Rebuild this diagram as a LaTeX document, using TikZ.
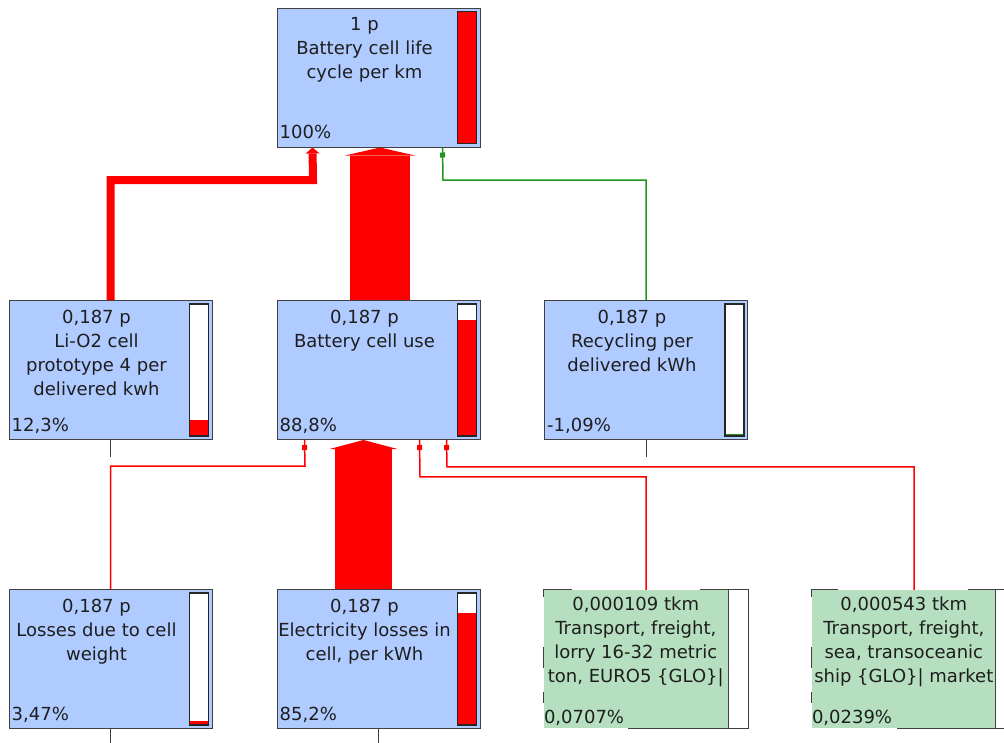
\documentclass[tikz,border=0pt]{standalone}
\usepackage{fontspec}
\setmainfont{DejaVu Sans}
\usetikzlibrary{arrows.meta}

\definecolor{procblue}{RGB}{176,203,255}
\definecolor{transgreen}{RGB}{181,223,190}
\definecolor{boxline}{RGB}{64,64,64}
\definecolor{txtgray}{RGB}{30,30,30}
\definecolor{flowgreen}{RGB}{30,150,30}

\begin{document}
\begin{tikzpicture}[x=1pt,y=-1pt,
	procbox/.style={draw=boxline, line width=1pt, fill=procblue, minimum width=203pt, minimum height=139pt, inner sep=0pt},
	transbox/.style={fill=transgreen, minimum width=204pt, minimum height=138pt, inner sep=0pt},
	amount/.style={anchor=north, align=center, inner sep=0pt, text=txtgray, font=\fontsize{18}{24}\selectfont},
	share/.style={anchor=base west, inner sep=0pt, text=txtgray, font=\fontsize{18}{24}\selectfont},
	bar/.style={draw=black!85, line width=1.2pt},
	edge/.style={draw=boxline, line width=1pt},
	mainflow/.style={red, line width=60pt, -{Triangle[length=8pt,width=70pt,line width=0pt]}},
	lossflow/.style={red, line width=57pt, -{Triangle[length=9pt,width=68pt,line width=0pt]}},
	lioflow/.style={red, line width=8pt, -{Triangle[length=6pt,width=14pt,line width=0pt]}},
	thinflow/.style={line width=1.5pt, -{Rectangle[length=5pt,width=5pt,line width=0pt]Rectangle[length=5pt,width=1.5pt,line width=0pt]}},
]
	\useasboundingbox (0,0) rectangle (1004,742);
	\clip (0,0) rectangle (1004,742);
	% process boxes
	\node[procbox] (top) at (378.5,77.5) {};
	\node[procbox] (lio) at (110.5,370) {};
	\node[procbox] (use) at (378.5,370) {};
	\node[procbox] (rec) at (646,370) {};
	\node[procbox] (loss) at (110.5,659) {};
	\node[procbox] (elec) at (378.5,659) {};
	\node[transbox] (lorry) at (646,659) {};
	\node[transbox] (sea) at (914,659) {};
	% texts
	\node[amount] (toptext) at ([shift={(88,10)}]top.north west) {1 p\\Battery cell life\\cycle per km};
	\node[share] (toppct) at ([shift={(3,-9)}]top.south west) {100\%};
	\node[amount] (liotext) at ([shift={(88,10)}]lio.north west) {0,187 p\\Li-O2 cell\\prototype 4 per\\delivered kwh};
	\node[share] (liopct) at ([shift={(3,-9)}]lio.south west) {12,3\%};
	\node[amount] (usetext) at ([shift={(88,10)}]use.north west) {0,187 p\\Battery cell use};
	\node[share] (usepct) at ([shift={(3,-9)}]use.south west) {88,8\%};
	\node[amount] (rectext) at ([shift={(88,10)}]rec.north west) {0,187 p\\Recycling per\\delivered kWh};
	\node[share] (recpct) at ([shift={(3,-9)}]rec.south west) {-1,09\%};
	\node[amount] (losstext) at ([shift={(88,10)}]loss.north west) {0,187 p\\Losses due to cell\\weight};
	\node[share] (losspct) at ([shift={(3,-9)}]loss.south west) {3,47\%};
	\node[amount] (electext) at ([shift={(88,10)}]elec.north west) {0,187 p\\Electricity losses in\\cell, per kWh};
	\node[share] (elecpct) at ([shift={(3,-9)}]elec.south west) {85,2\%};
	\node[amount] (lorrytext) at ([shift={(92,7)}]lorry.north west) {0,000109 tkm\\Transport, freight,\\lorry 16-32 metric\\ton, EURO5 \{GLO\}|};
	\node[share] (lorrypct) at ([shift={(0,-5)}]lorry.south west) {0,0707\%};
	\node[amount] (seatext) at ([shift={(92,7)}]sea.north west) {0,000543 tkm\\Transport, freight,\\sea, transoceanic\\ship \{GLO\}| market};
	\node[share] (seapct) at ([shift={(0,-5)}]sea.south west) {0,0239\%};
	% bars
	\fill[red] ([shift={(-23,4)}]top.north east) rectangle ([shift={(-4,-4)}]top.south east);
	\draw[bar] ([shift={(-23,4)}]top.north east) rectangle ([shift={(-4,-4)}]top.south east);
	\fill[white] ([shift={(-23,4)}]lio.north east) rectangle ([shift={(-4,-4)}]lio.south east);
	\fill[red] ([shift={(-23,-4)}]lio.south east) rectangle ([shift={(-4,-20)}]lio.south east);
	\draw[bar] ([shift={(-23,4)}]lio.north east) rectangle ([shift={(-4,-4)}]lio.south east);
	\fill[white] ([shift={(-23,4)}]use.north east) rectangle ([shift={(-4,-4)}]use.south east);
	\fill[red] ([shift={(-23,-4)}]use.south east) rectangle ([shift={(-4,-120)}]use.south east);
	\draw[bar] ([shift={(-23,4)}]use.north east) rectangle ([shift={(-4,-4)}]use.south east);
	\fill[white] ([shift={(-23,4)}]rec.north east) rectangle ([shift={(-4,-4)}]rec.south east);
	\fill[flowgreen] ([shift={(-23,-4)}]rec.south east) rectangle ([shift={(-4,-6)}]rec.south east);
	\draw[bar] ([shift={(-23,4)}]rec.north east) rectangle ([shift={(-4,-4)}]rec.south east);
	\fill[white] ([shift={(-23,4)}]loss.north east) rectangle ([shift={(-4,-4)}]loss.south east);
	\fill[red] ([shift={(-23,-4)}]loss.south east) rectangle ([shift={(-4,-8.5)}]loss.south east);
	\draw[bar] ([shift={(-23,4)}]loss.north east) rectangle ([shift={(-4,-4)}]loss.south east);
	\fill[white] ([shift={(-23,4)}]elec.north east) rectangle ([shift={(-4,-4)}]elec.south east);
	\fill[red] ([shift={(-23,-4)}]elec.south east) rectangle ([shift={(-4,-115.6)}]elec.south east);
	\draw[bar] ([shift={(-23,4)}]elec.north east) rectangle ([shift={(-4,-4)}]elec.south east);
	% transport boxes, border only partly shown
	\draw[edge, fill=white] ([xshift=-20pt]lorry.north east) rectangle (lorry.south east);
	\draw[edge] ([shift={(0,7)}]lorry.north west) -- (lorry.north west) -- ++(28,0);
	\draw[edge] ([shift={(156,0)}]lorry.north west) -- (lorry.north east) -- (lorry.south east) -- ([shift={(84,0)}]lorry.south west);
	\draw[edge] ([shift={(0,57)}]lorry.north west) -- ++(0,21);
	\draw[edge] ([shift={(0,102)}]lorry.north west) -- ++(0,11);
	\draw[edge, fill=white] ([xshift=-21pt]sea.north east) rectangle (sea.south east);
	\draw[edge] ([shift={(0,7)}]sea.north west) -- (sea.north west) -- ++(26,0);
	\draw[edge] ([shift={(156,0)}]sea.north west) -- (sea.north east) -- (sea.south east) -- ([shift={(85,0)}]sea.south west);
	\draw[edge] ([shift={(0,57)}]sea.north west) -- ++(0,21);
	\draw[edge] ([shift={(0,102)}]sea.north west) -- ++(0,11);
	% flows
	\draw[mainflow] ([xshift=1.5pt]use.north) -- ([xshift=1.5pt]top.south);
	\draw[lossflow] ([xshift=-15pt]elec.north) -- ([xshift=-15pt]use.south);
	\draw[lioflow] (lio.north) |- ++(202.5,-120) -- ([xshift=36pt]top.south west);
	\draw[thinflow, flowgreen] (rec.north) |- ++(-203,-120) -- ([xshift=166pt]top.south west);
	\draw[thinflow, red] (loss.north) |- ++(194.5,-123) -- ([xshift=28pt]use.south west);
	\draw[thinflow, red] (lorry.north) |- ++(-226,-113) -- ([xshift=143pt]use.south west);
	\draw[thinflow, red] (sea.north) |- ++(-467,-123) -- ([xshift=170pt]use.south west);
	% stubs below boxes
	\draw[edge] (lio.south) -- ++(0,17);
	\draw[edge] (rec.south) -- ++(0,17);
	\draw[edge] (loss.south) -- ++(0,17);
	\draw[edge] (elec.south) -- ++(0,17);
\end{tikzpicture}
\end{document}
